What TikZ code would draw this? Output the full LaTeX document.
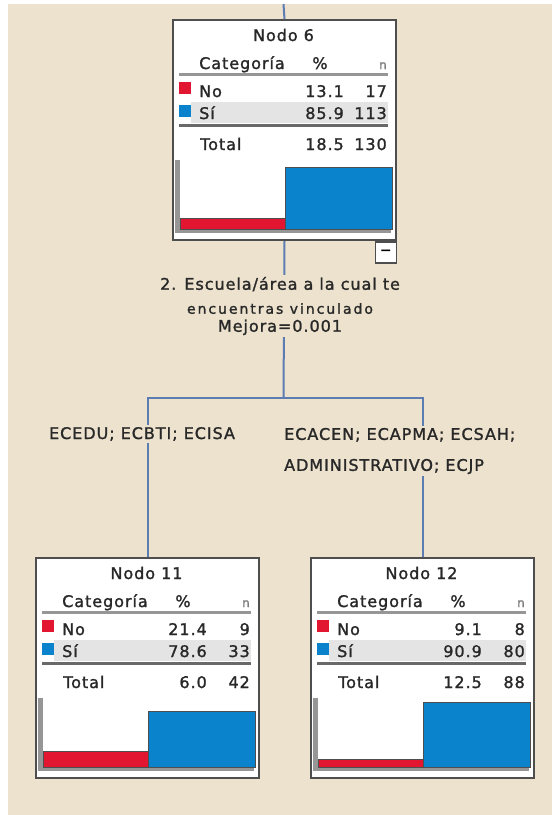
\documentclass[tikz,border=0pt]{standalone}
\usepackage{fontspec}
\newfontfamily\arbolfont[LetterSpace=6,FakeBold=1.4]{DejaVu Sans}
\usetikzlibrary{positioning}
\definecolor{fondo}{RGB}{236,226,206}
\definecolor{rojo}{RGB}{226,22,48}
\definecolor{azul}{RGB}{10,130,204}
\definecolor{ramacol}{RGB}{92,124,178}
\definecolor{franja}{RGB}{228,228,228}
\definecolor{marco}{RGB}{78,78,78}
\definecolor{eje}{RGB}{150,150,150}
\definecolor{texto}{RGB}{40,40,40}

\tikzset{
  caja/.style={draw=marco, line width=2pt, fill=white, minimum width=223pt,
    minimum height=220pt, anchor=north west, inner sep=0pt},
  txt/.style={font=\arbolfont\fontsize{16}{19}\selectfont, text=texto, inner sep=0pt},
  rama/.style={draw=ramacol, line width=2pt},
  etiqueta/.style={txt, fill=fondo, inner sep=2pt},
  boton/.style={draw=marco, line width=1.5pt, fill=white, minimum size=21pt,
    inner sep=0pt, anchor=north east, font=\arbolfont\fontsize{14}{14}\selectfont}
}

% nodo del arbol: numero, x, y, No %, No n, Si %, Si n, total %, total n
\newcommand{\arbolnodo}[9]{%
  \node[caja] (n#1) at (#2,#3) {};
  \begin{scope}[shift={(#2,#3)}]
    \fill[franja] (19,83) rectangle (216,104);
    \fill[eje] (7,54) rectangle (216,57);
    \fill[eje!70!black] (7,105) rectangle (216,108);
    \node[txt, anchor=base] (n#1-titulo) at (111.5,22) {Nodo #1};
    \node[txt, anchor=base west] (n#1-cat) at (27,50) {Categoría};
    \node[txt, anchor=base] (n#1-pct) at (148,50) {\%};
    \node[txt, anchor=base east, text=texto!60, font=\arbolfont\fontsize{12}{14}\selectfont] (n#1-n) at (215,50) {n};
    \fill[rojo] (7,63) rectangle (19,75);
    \node[txt, anchor=base west] (n#1-no) at (27,78) {No};
    \node[txt, anchor=base east] (n#1-nop) at (172,78) {#4};
    \node[txt, anchor=base east] (n#1-non) at (215,78) {#5};
    \fill[azul] (7,86) rectangle (19,98);
    \node[txt, anchor=base west] (n#1-si) at (27,100) {Sí};
    \node[txt, anchor=base east] (n#1-sip) at (172,100) {#6};
    \node[txt, anchor=base east] (n#1-sin) at (215,100) {#7};
    \node[txt, anchor=base west] (n#1-tot) at (28,131) {Total};
    \node[txt, anchor=base east] (n#1-totp) at (172,131) {#8};
    \node[txt, anchor=base east] (n#1-totn) at (215,131) {#9};
    % grafico de barras
    \fill[eje] (3,141) rectangle (8,214);
    \fill[eje] (3,210) rectangle (219,214);
    \filldraw[fill=rojo, draw=marco, line width=0.8pt] (8,{209-0.7*#4}) rectangle (113,210);
    \filldraw[fill=azul, draw=marco, line width=0.8pt] (113,{209-0.7*#6}) rectangle (220,210);
  \end{scope}}

\begin{document}
\begin{tikzpicture}[x=1pt, y=-1pt]
\useasboundingbox (0,0) rectangle (552,815);
\fill[white] (0,0) rectangle (552,815);
\fill[fondo] (8,4) rectangle (552,815);

\arbolnodo{6}{172}{19}{13.1}{17}{85.9}{113}{18.5}{130}
\arbolnodo{11}{35}{557}{21.4}{9}{78.6}{33}{6.0}{42}
\arbolnodo{12}{310}{557}{9.1}{8}{90.9}{80}{12.5}{88}
\node[boton] (n6-boton) at (n6.south east) {−};

\coordinate (raiz) at (283.5,4);
\coordinate (corte) at (283.5,398);
\draw[rama] (raiz) -- (n6.north);
\draw[rama] (n6.south) -- (corte);
\draw[rama] (n11.north) |- (corte) -| (n12.north);

\node[etiqueta, align=center] (division) at (280,306)
  {2. Escuela/área a la cual te\\[5pt]
   {\fontsize{14}{16}\addfontfeature{LetterSpace=14}\selectfont encuentras vinculado}\\[-1pt]
   Mejora=0.001};
\node[etiqueta, anchor=base] (rama-izq) at (142,439) {ECEDU; ECBTI; ECISA};
\node[etiqueta, anchor=west, align=left] (rama-der) at (282,451)
  {ECACEN; ECAPMA; ECSAH;\\[12pt]ADMINISTRATIVO; ECJP};
\end{tikzpicture}
\end{document}
